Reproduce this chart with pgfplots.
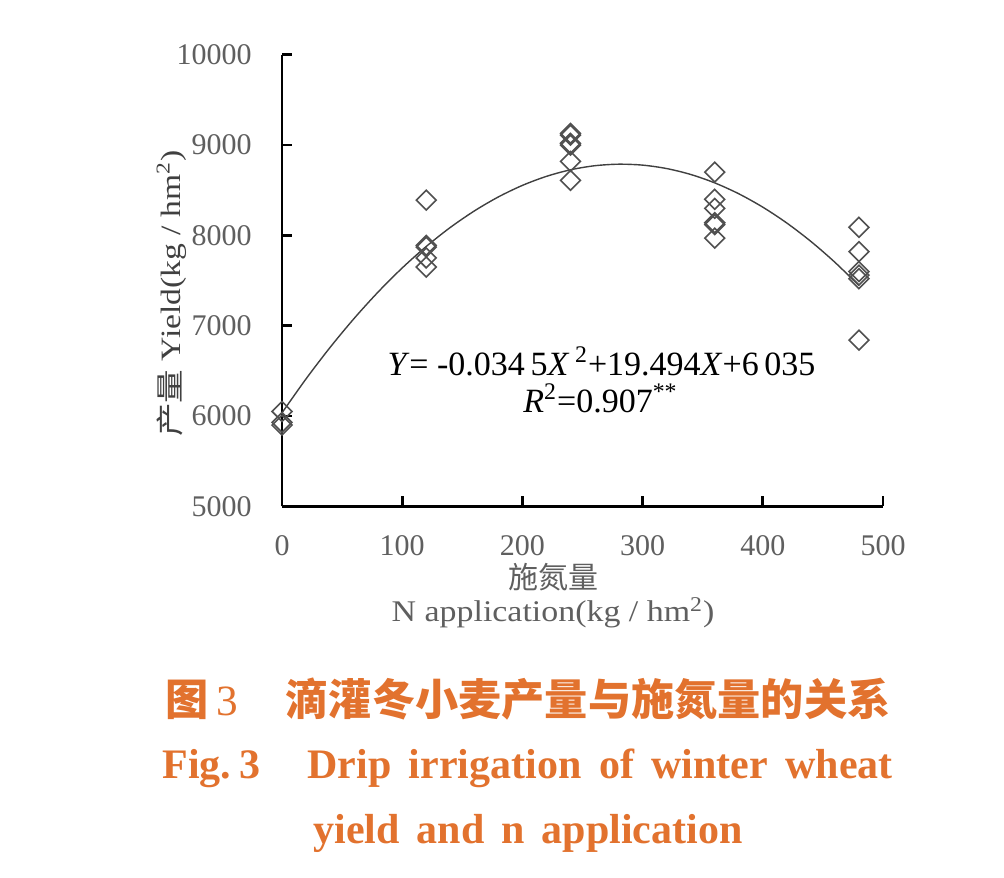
\documentclass[border=0pt]{standalone}
\usepackage{fontspec}
\usepackage{pgfplots}
\pgfplotsset{compat=1.18}
\setmainfont{Liberation Serif}
\newfontfamily\cjk{Noto Sans CJK SC}
\definecolor{capor}{RGB}{226,114,46}
\definecolor{lblgray}{RGB}{95,95,95}
\definecolor{mkgray}{RGB}{80,80,80}

% yield observations (kg/hm2) at each N rate (kg/hm2)
\pgfplotstableread{
n    yield
0    6050
0    5930
0    5900
120  8390
120  7890
120  7870
120  7750
120  7650
240  9130
240  9110
240  9020
240  9000
240  8820
240  8610
360  8700
360  8400
360  8300
360  8140
360  8120
360  7970
480  8090
480  7820
480  7600
480  7560
480  7520
480  6840
}\yielddata

\begin{document}
\begin{tikzpicture}[x=1pt,y=1pt]
\path[use as bounding box, fill=white] (0,0) rectangle (502,438.5);
\begin{axis}[
  at={(141pt,185.35pt)}, anchor=south west,
  scale only axis, width=300.5pt, height=225.75pt,
  xmin=0, xmax=500, ymin=5000, ymax=10000,
  axis lines=left, axis line style={-, line width=1.4pt, black},
  xtick={0,100,...,500}, ytick={5000,6000,...,10000},
  scaled y ticks=false, scaled x ticks=false,
  tick align=inside, major tick length=5pt,
  tick style={line width=1.4pt, black},
  /pgf/number format/1000 sep={},
  /pgf/number format/assume math mode=true,
  tick label style={font=\fontsize{15}{18}\selectfont, text=lblgray, inner sep=0pt},
  xticklabel shift=14.5pt, yticklabel shift=15pt,
  clip=false,
]
% quadratic fit Y = -0.0345X^2 + 19.494X + 6035, tabulated every 20 kg/hm2
\addplot[smooth, line width=0.7pt, color=black!75] coordinates {
  (0,6035) (20,6411.1) (40,6759.6) (60,7080.4) (80,7373.7) (100,7639.4)
  (120,7877.5) (140,8088.0) (160,8270.8) (180,8426.1) (200,8553.8)
  (220,8653.9) (240,8726.4) (260,8771.2) (280,8788.5) (300,8778.2)
  (320,8740.3) (340,8674.8) (360,8581.6) (380,8460.9) (400,8312.6)
  (420,8136.7) (440,7933.2) (460,7702.0) (480,7443.3)
};
\addplot[only marks, mark=square, mark size=3.5pt,
  mark options={rotate=45, draw=mkgray, line width=0.8pt}] table[x=n, y=yield] {\yielddata};

\node[anchor=base, inner sep=0pt, font=\fontsize{17}{20}\selectfont] at (axis cs:265.8,6454)
  {\textit{Y}= -0.034\,5\textit{X}\,\textsuperscript{2}+19.494\textit{X}+6\,035};
\node[anchor=base, inner sep=0pt, font=\fontsize{17}{20}\selectfont] at (axis cs:265,6044)
  {\textit{R}\textsuperscript{2}=0.907\textsuperscript{**}};

\node[rotate=90, anchor=center, inner sep=0pt, text=black!75, font=\fontsize{14}{16}\selectfont]
  at (axis description cs:-0.184,0.471)
  {\scalebox{1.2}[1]{{\cjk 产量} Yield(kg / hm\textsuperscript{2})}};
\node[anchor=center, inner sep=0pt, text=lblgray, font=\fontsize{15}{18}\selectfont]
  at (axis description cs:0.451,-0.157) {\cjk 施氮量};
\node[anchor=center, inner sep=0pt, text=lblgray, font=\fontsize{15}{18}\selectfont]
  at (axis description cs:0.451,-0.236)
  {\scalebox{1.13}[1]{N application(kg / hm\textsuperscript{2})}};
\end{axis}

% figure caption
\node[anchor=base west, inner sep=0pt, text=capor, font=\fontsize{21.6}{24}\selectfont]
  at (82.7,81) {{\cjk\bfseries 图}\kern3.5pt 3};
\node[anchor=base west, inner sep=0pt, text=capor, font=\fontsize{21.6}{24}\selectfont]
  at (142.6,81) {\cjk\bfseries 滴灌冬小麦产量与施氮量的关系};
\node[anchor=base west, inner sep=0pt, text=capor, font=\fontsize{21}{24}\selectfont\bfseries]
  at (81,49.5) {Fig.\hspace{4pt}3};
\node[anchor=base west, inner sep=0pt, text=capor, font=\fontsize{21}{24}\selectfont\bfseries]
  at (153.5,49.5) {Drip\hspace{8.75pt}irrigation\hspace{8.75pt}of\hspace{8.75pt}winter\hspace{8.75pt}wheat};
\node[anchor=base west, inner sep=0pt, text=capor, font=\fontsize{21}{24}\selectfont\bfseries]
  at (156.5,17) {yield\hspace{8.5pt}and\hspace{8.5pt}n\hspace{8.5pt}application};
\end{tikzpicture}
\end{document}
